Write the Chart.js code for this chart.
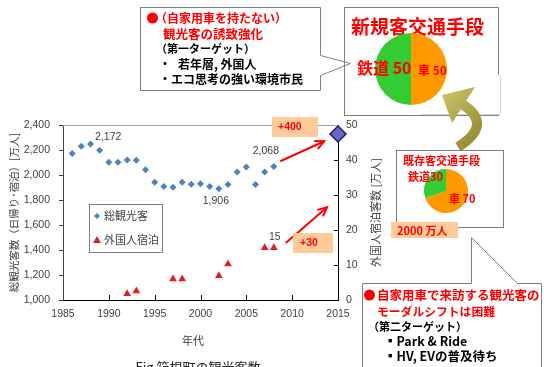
<!DOCTYPE html>
<html>
<head>
<meta charset="utf-8">
<script src="https://cdn.jsdelivr.net/npm/chart.js@4/dist/chart.umd.min.js"></script>
<style>
  body { margin: 0; background: #fff; }
  #wrap { position: relative; width: 544px; height: 367px; overflow: hidden; }
  canvas { position: absolute; }
</style>
</head>
<body>
<div id="wrap">
  <canvas id="main" width="544" height="367" style="left:0;top:0"></canvas>
  <canvas id="pieNew" width="153" height="106" style="left:345px;top:8px"></canvas>
  <canvas id="pieOld" width="105" height="75" style="left:397px;top:151px"></canvas>
</div>
<script>
// total visitors (万人), left axis
const years = [1986, 1987, 1988, 1989, 1990, 1991, 1992, 1993, 1994, 1995, 1996, 1997,
               1998, 1999, 2000, 2001, 2002, 2003, 2004, 2005, 2006, 2007, 2008];
const totalVisitors = [2172, 2230, 2248, 2198, 2102, 2102, 2120, 2118, 2043, 1942, 1908, 1902,
                       1942, 1926, 1930, 1908, 1890, 1924, 2024, 2064, 1924, 2024, 2068];
// foreign overnight guests (万人), right axis
const foreignYears = [1992, 1993, 1997, 1998, 2002, 2003, 2007, 2008];
const foreignGuests = [1.8, 2.6, 6.0, 6.0, 6.9, 10.3, 14.9, 14.9];
// target marker
const targetYears = [2015];
const targetVisitors = [2328];

const xTicks = [1985, 1990, 1995, 2000, 2005, 2010, 2015];
const leftTicks = [1000, 1200, 1400, 1600, 1800, 2000, 2200, 2400];
const rightTicks = [0, 10, 20, 30, 40, 50];

const modeLabels = ['車', '鉄道'];
const newShare = [50, 50];
const oldShare = [70, 30];

const JP = '"Noto Sans CJK JP", sans-serif';
const NUM = '"Liberation Sans", Arial, sans-serif';
const RED = '#FF0000';

function txt(ctx, s, x, y, size, color, bold, family, align) {
  ctx.save();
  ctx.font = (bold ? 'bold ' : '') + size + 'px ' + (family || JP);
  ctx.fillStyle = color;
  ctx.textAlign = align || 'left';
  ctx.textBaseline = 'middle';
  ctx.fillText(s, x, y);
  ctx.restore();
}

function arrow(ctx, x1, y1, x2, y2) {
  ctx.beginPath(); ctx.moveTo(x1, y1); ctx.lineTo(x2, y2); ctx.stroke();
  const a = Math.atan2(y2 - y1, x2 - x1), L = 10;
  ctx.beginPath();
  ctx.moveTo(x2 - L * Math.cos(a - 0.45), y2 - L * Math.sin(a - 0.45));
  ctx.lineTo(x2, y2);
  ctx.lineTo(x2 - L * Math.cos(a + 0.45), y2 - L * Math.sin(a + 0.45));
  ctx.stroke();
}

function peach(ctx, x, y, w, h) {
  ctx.fillStyle = '#FFCC99';
  ctx.fillRect(x, y, w, h);
}

const annotations = {
  id: 'annotations',
  afterDraw(chart) {
    const { ctx, chartArea: ca } = chart;
    const { x, y, y2 } = chart.scales;
    ctx.save();

    // plot frame top + inside ticks
    ctx.strokeStyle = '#a0a0a0'; ctx.lineWidth = 1;
    ctx.beginPath(); ctx.moveTo(ca.left, ca.top + 0.5); ctx.lineTo(ca.right, ca.top + 0.5); ctx.stroke();
    ctx.strokeStyle = '#000';
    xTicks.slice(1, -1).forEach(v => {
      const px = Math.round(x.getPixelForValue(v)) + 0.5;
      ctx.beginPath(); ctx.moveTo(px, ca.bottom); ctx.lineTo(px, ca.bottom - 5); ctx.stroke();
    });
    rightTicks.slice(1, -1).forEach(v => {
      const py = Math.round(y2.getPixelForValue(v)) + 0.5;
      ctx.beginPath(); ctx.moveTo(ca.right, py); ctx.lineTo(ca.right - 4, py); ctx.stroke();
    });

    // point labels
    const lab = (yr, val, sc, s, dx, dy) =>
      txt(ctx, s, x.getPixelForValue(yr) + dx, sc.getPixelForValue(val) + dy, 10.5, '#404040', false, NUM, 'center');
    lab(1986, totalVisitors[0], y, '2,172', 36, -16);
    lab(2002, totalVisitors[16], y, '1,906', -3, 12);
    lab(2008, totalVisitors[22], y, '2,068', -8, -15);
    lab(2008, foreignGuests[7], y2, '15', 1, -11);

    // legend box
    ctx.fillStyle = '#fff'; ctx.strokeStyle = '#808080';
    ctx.fillRect(89, 204, 73, 48); ctx.strokeRect(89.5, 204.5, 73, 48);
    ctx.fillStyle = '#4F81BD';
    ctx.beginPath(); ctx.moveTo(97, 213); ctx.lineTo(100, 216); ctx.lineTo(97, 219); ctx.lineTo(94, 216); ctx.closePath(); ctx.fill();
    txt(ctx, '総観光客', 104, 216, 11, '#404040');
    ctx.fillStyle = '#E02020';
    ctx.beginPath(); ctx.moveTo(97, 236); ctx.lineTo(101, 243); ctx.lineTo(93, 243); ctx.closePath(); ctx.fill();
    txt(ctx, '外国人宿泊', 104, 240, 11, '#404040');

    // axis titles / caption
    txt(ctx, '年代', 193, 341, 11, '#404040', false, JP, 'center');
    ctx.save();
    ctx.translate(376, (ca.top + ca.bottom) / 2);
    ctx.rotate(-Math.PI / 2);
    txt(ctx, '外国人宿泊客数 [万人]', 0, 0, 11, '#404040', false, JP, 'center');
    ctx.restore();
    txt(ctx, 'Fig 箱根町の観光客数', 198, 367, 13, '#222', false, JP, 'center');

    // red arrows and peach boxes
    ctx.strokeStyle = RED; ctx.lineWidth = 2;
    arrow(ctx, x.getPixelForValue(2008.7), y.getPixelForValue(2110), x.getPixelForValue(2013.5), y.getPixelForValue(2270));
    arrow(ctx, x.getPixelForValue(2009.3), y2.getPixelForValue(16.3), x.getPixelForValue(2013.8), y2.getPixelForValue(26.5));
    peach(ctx, 272, 117, 46, 20);
    txt(ctx, '+400', 278, 127, 10.5, RED, true, NUM);
    peach(ctx, 293, 233, 40, 20);
    txt(ctx, '+30', 300, 243, 10.5, RED, true, NUM);

    // box 1 (first target) with pointer
    ctx.lineWidth = 1; ctx.strokeStyle = '#808080'; ctx.fillStyle = '#fff';
    ctx.beginPath();
    ctx.moveTo(140.5, 7.5); ctx.lineTo(320.5, 7.5); ctx.lineTo(320.5, 55.5); ctx.lineTo(350.5, 63.5);
    ctx.lineTo(320.5, 75.5); ctx.lineTo(320.5, 90.5); ctx.lineTo(140.5, 90.5); ctx.closePath();
    ctx.fill(); ctx.stroke();
    ctx.fillStyle = RED;
    ctx.beginPath(); ctx.arc(152.5, 18, 5.5, 0, Math.PI * 2); ctx.fill();
    txt(ctx, '（自家用車を持たない）', 155, 18, 12, RED, true);
    txt(ctx, '観光客の誘致強化', 163, 34, 12.5, RED, true);
    txt(ctx, '（第一ターゲット）', 156, 49, 11, '#000', true);
    txt(ctx, '・', 159, 64, 12, '#000', true);
    txt(ctx, '若年層, 外国人', 178, 64, 12, '#000', true);
    txt(ctx, '・', 159, 79, 12, '#000', true);
    txt(ctx, 'エコ思考の強い環境市民', 171, 79, 12, '#000', true);

    // pie box 1
    ctx.strokeStyle = '#808080';
    ctx.strokeRect(344.5, 7.5, 154, 108);
    txt(ctx, '新規客交通手段', 351, 27, 19, RED, true);

    // white backing of the curved arrow
    ctx.fillStyle = '#fff';
    ctx.fillRect(421, 75, 79, 39);
    ctx.strokeStyle = '#d8d8d8';
    ctx.beginPath(); ctx.moveTo(500.5, 75); ctx.lineTo(500.5, 114.5); ctx.lineTo(421, 114.5); ctx.stroke();

    // curved olive arrow
    const g = ctx.createLinearGradient(440, 90, 490, 140);
    g.addColorStop(0, '#CFC768'); g.addColorStop(1, '#8C8430');
    ctx.strokeStyle = g; ctx.lineWidth = 10; ctx.lineCap = 'butt';
    ctx.beginPath(); ctx.moveTo(458, 147); ctx.quadraticCurveTo(494, 124, 462, 104); ctx.stroke();
    ctx.fillStyle = g;
    ctx.beginPath(); ctx.moveTo(442, 95); ctx.lineTo(475, 87); ctx.lineTo(452, 123); ctx.closePath(); ctx.fill();

    // pie box 2
    ctx.lineWidth = 1; ctx.strokeStyle = '#808080';
    ctx.strokeRect(396.5, 150.5, 107, 77);
    txt(ctx, '既存客交通手段', 403, 161, 11, RED, true);
    peach(ctx, 391, 222, 67, 16);
    txt(ctx, '2000 万人', 397, 230.5, 11, RED, true);

    // box 3 (second target) with pointer
    ctx.fillStyle = '#fff'; ctx.strokeStyle = '#808080';
    ctx.beginPath();
    ctx.moveTo(362.5, 283.5); ctx.lineTo(471.5, 283.5); ctx.lineTo(471.5, 237.5); ctx.lineTo(517.5, 283.5);
    ctx.lineTo(541.5, 283.5); ctx.lineTo(541.5, 370); ctx.lineTo(362.5, 370); ctx.closePath();
    ctx.fill(); ctx.stroke();
    ctx.fillStyle = RED;
    ctx.beginPath(); ctx.arc(369.5, 295, 5.5, 0, Math.PI * 2); ctx.fill();
    txt(ctx, '自家用車で来訪する観光客の', 377, 295, 12.5, RED, true);
    txt(ctx, 'モーダルシフトは困難', 377, 312, 11.8, RED, true);
    txt(ctx, '（第二ターゲット）', 368, 327, 11, '#000', true);
    txt(ctx, '▪Park & Ride', 384, 341, 12.5, '#000', true);
    txt(ctx, '▪HV, EVの普及待ち', 384, 356, 12.5, '#000', true);

    ctx.restore();
  }
};

new Chart(document.getElementById('main'), {
  type: 'scatter',
  data: {
    datasets: [
      {
        label: '総観光客',
        data: years.map((yr, i) => ({ x: yr, y: totalVisitors[i] })),
        yAxisID: 'y',
        pointStyle: 'rectRot', pointRadius: 3.5, borderWidth: 0,
        backgroundColor: '#4F81BD', borderColor: '#4F81BD'
      },
      {
        label: '外国人宿泊',
        data: foreignYears.map((yr, i) => ({ x: yr, y: foreignGuests[i] })),
        yAxisID: 'y2',
        pointStyle: 'triangle', pointRadius: 4.5, borderWidth: 0,
        backgroundColor: '#E02020', borderColor: '#E02020'
      },
      {
        label: '目標',
        data: targetYears.map((yr, i) => ({ x: yr, y: targetVisitors[i] })),
        yAxisID: 'y',
        pointStyle: 'rectRot', pointRadius: 8, borderWidth: 1.5,
        backgroundColor: '#6868CC', borderColor: '#1E1E66',
        clip: false
      }
    ]
  },
  options: {
    responsive: false,
    animation: false,
    events: [],
    layout: { padding: { top: 125, left: 0, right: 0, bottom: 0 } },
    plugins: { legend: { display: false }, tooltip: { enabled: false } },
    scales: {
      x: {
        type: 'linear', min: 1985, max: 2015,
        afterBuildTicks: s => { s.ticks = xTicks.map(v => ({ value: v })); },
        afterFit: s => { s.height = 67; },
        ticks: { callback: v => String(v), font: { family: NUM, size: 10.5 }, color: '#404040', padding: 8, maxRotation: 0, autoSkip: false },
        grid: { display: false, drawTicks: false },
        border: { display: true, color: '#000', width: 1 }
      },
      y: {
        position: 'left', min: 1000, max: 2400,
        afterBuildTicks: s => { s.ticks = leftTicks.map(v => ({ value: v })); },
        afterFit: s => { s.width = 63; },
        ticks: { callback: v => v.toLocaleString('en-US'), font: { family: NUM, size: 10.5 }, color: '#404040', padding: 9 },
        grid: { display: true, drawOnChartArea: false, drawTicks: true, tickLength: 4, color: '#404040' },
        border: { display: true, color: '#404040', width: 1 },
        title: { display: true, text: '総観光客数（日帰り･宿泊）[万人]', font: { family: JP, size: 10.5 }, color: '#404040', padding: { top: 8, bottom: 0 } }
      },
      y2: {
        position: 'right', min: 0, max: 50,
        afterBuildTicks: s => { s.ticks = rightTicks.map(v => ({ value: v })); },
        afterFit: s => { s.width = 206; },
        ticks: { font: { family: NUM, size: 10.5 }, color: '#404040', padding: 8 },
        grid: { display: false, drawTicks: false },
        border: { display: true, color: '#000', width: 1 }
      }
    }
  },
  plugins: [annotations]
});

function pieLabels(items) {
  return {
    id: 'pieLabels',
    afterDraw(chart) {
      items.forEach(it => txt(chart.ctx, it[0], it[1], it[2], it[3], RED, true));
    }
  };
}

function makePie(id, values, pad, labels) {
  new Chart(document.getElementById(id), {
    type: 'pie',
    data: {
      labels: modeLabels,
      datasets: [{
        data: values,
        backgroundColor: ['#FF9900', '#33CC33'],
        borderWidth: 0, hoverOffset: 0, offset: 0
      }]
    },
    options: {
      responsive: false, animation: false, events: [],
      layout: { padding: pad },
      plugins: { legend: { display: false }, tooltip: { enabled: false } }
    },
    plugins: [pieLabels(labels)]
  });
}

makePie('pieNew', newShare, { left: 30, right: 51, top: 25, bottom: 9 },
  [['鉄道 50', 12, 60, 16], ['車 50', 73, 62, 12]]);
makePie('pieOld', oldShare, { left: 27, right: 34, top: 18, bottom: 13 },
  [['鉄道30', 11, 26, 11], ['車 70', 52, 48, 11]]);
</script>
</body>
</html>
